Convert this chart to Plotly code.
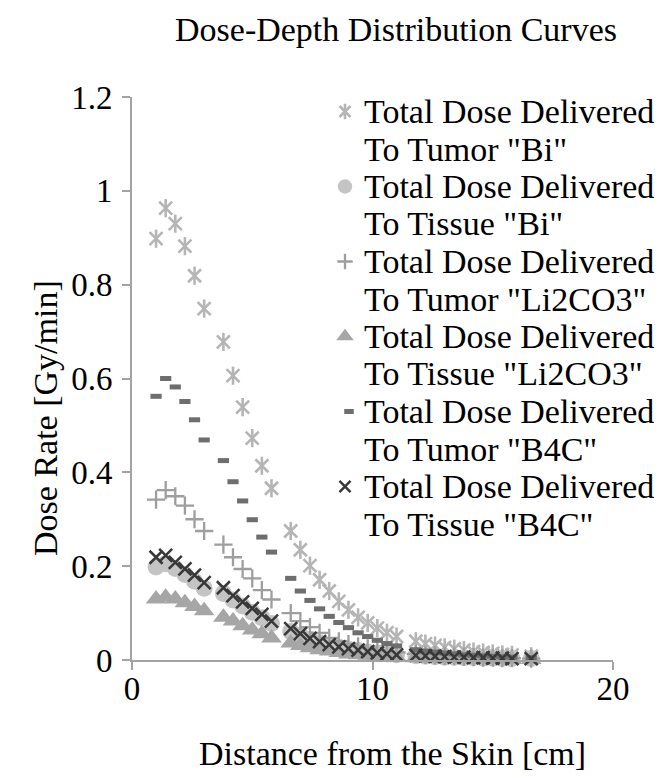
import plotly.graph_objects as go

# ---------------- data ----------------
depth_cm = [1.0, 1.4, 1.8, 2.2, 2.6, 3.0,
            3.8, 4.2, 4.6, 5.0, 5.4, 5.8,
            6.6, 7.0, 7.4, 7.8, 8.2, 8.6, 9.0, 9.4, 9.8, 10.2, 10.6, 11.0,
            11.8, 12.2, 12.6, 13.0, 13.4, 13.8, 14.2, 14.6, 15.0, 15.4, 15.8,
            16.6]

tumor_bi = [0.898, 0.963, 0.930, 0.882, 0.819, 0.749,
            0.678, 0.606, 0.539, 0.473, 0.414, 0.366,
            0.275, 0.235, 0.201, 0.171, 0.147, 0.125, 0.107, 0.091, 0.079, 0.068, 0.058, 0.050,
            0.040, 0.035, 0.031, 0.027, 0.024, 0.021, 0.018, 0.016, 0.014, 0.012, 0.011,
            0.008]
tissue_bi = [0.198, 0.205, 0.195, 0.182, 0.168, 0.153,
             0.142, 0.128, 0.115, 0.102, 0.090, 0.078,
             0.061, 0.052, 0.044, 0.037, 0.031, 0.027, 0.023, 0.020, 0.017, 0.015, 0.013, 0.011,
             0.009, 0.008, 0.007, 0.006, 0.006, 0.005, 0.005, 0.004, 0.004, 0.003, 0.003,
             0.003]
tumor_li = [0.342, 0.362, 0.349, 0.329, 0.300, 0.275,
            0.246, 0.219, 0.194, 0.174, 0.149, 0.129,
            0.100, 0.083, 0.070, 0.058, 0.047, 0.040, 0.034, 0.029, 0.025, 0.021, 0.018, 0.016,
            0.013, 0.011, 0.010, 0.009, 0.008, 0.007, 0.006, 0.005, 0.005, 0.004, 0.004,
            0.003]
tissue_li = [0.130, 0.134, 0.130, 0.122, 0.114, 0.105,
             0.091, 0.083, 0.073, 0.064, 0.056, 0.047,
             0.036, 0.031, 0.026, 0.022, 0.019, 0.016, 0.013, 0.011, 0.010, 0.008, 0.007, 0.006,
             0.005, 0.004, 0.004, 0.003, 0.003, 0.003, 0.002, 0.002, 0.002, 0.002, 0.001,
             0.001]
tumor_b4c = [0.562, 0.600, 0.582, 0.551, 0.512, 0.469,
             0.425, 0.380, 0.339, 0.299, 0.262, 0.230,
             0.174, 0.147, 0.127, 0.109, 0.093, 0.080, 0.069, 0.058, 0.050, 0.042, 0.035, 0.030,
             0.022, 0.019, 0.017, 0.015, 0.013, 0.011, 0.010, 0.009, 0.008, 0.007, 0.006,
             0.005]
tissue_b4c = [0.219, 0.223, 0.208, 0.194, 0.181, 0.165,
              0.154, 0.137, 0.124, 0.110, 0.097, 0.083,
              0.067, 0.056, 0.046, 0.039, 0.033, 0.028, 0.024, 0.021, 0.018, 0.015, 0.013, 0.011,
              0.010, 0.009, 0.008, 0.007, 0.006, 0.006, 0.005, 0.005, 0.004, 0.004, 0.003,
              0.003]

series_names = ['Total Dose Delivered<br>To Tumor "Bi"',
                'Total Dose Delivered<br>To Tissue "Bi"',
                'Total Dose Delivered<br>To Tumor "Li2CO3"',
                'Total Dose Delivered<br>To Tissue "Li2CO3"',
                'Total Dose Delivered<br>To Tumor "B4C"',
                'Total Dose Delivered<br>To Tissue "B4C"']
series_values = [tumor_bi, tissue_bi, tumor_li, tissue_li, tumor_b4c, tissue_b4c]

x_ticks = [0, 10, 20]
y_ticks = [0, 0.2, 0.4, 0.6, 0.8, 1.0, 1.2]
y_tick_text = ["0", "0.2", "0.4", "0.6", "0.8", "1", "1.2"]

title_text = "Dose-Depth Distribution Curves"
x_title = "Distance from the Skin [cm]"
y_title = "Dose Rate [Gy/min]"

# ---------------- styling ----------------
W, H = 669, 778
ML, MR, MT, MB = 124, 64, 89, 126
FONT = "Liberation Serif, Times New Roman, serif"
FS = 34
TICK_FS = 33
AXIS_GRAY = "#a3a3a3"
plot_w = W - ML - MR
plot_h = H - MT - MB


def px_x(px):
    return (px - ML) / plot_w


def px_y(py):
    return 1 - (py - MT) / plot_h


styles = [
    dict(color="#b5b5b5", layers=[("x-thin-open", 13, 2.6), ("line-ns-open", 13, 2.6)]),
    dict(color="#c4c4c4", layers=[("circle", 17, 0)]),
    dict(color="#9e9e9e", layers=[("cross-thin-open", 13, 2.3)]),
    dict(color="#a6a6a6", layers=[("triangle-up", 18, 0)]),
    dict(color="#6e6e6e", layers=[("line-ew-open", 8, 5)]),
    dict(color="#383838", layers=[("x-thin-open", 13, 2.5)]),
]

fig = go.Figure()

for name, vals, st in zip(series_names, series_values, styles):
    for sym, size, lw in st["layers"]:
        fig.add_trace(go.Scatter(
            x=depth_cm, y=vals, mode="markers", name=name, showlegend=False,
            marker=dict(symbol=sym, size=size, color=st["color"],
                        line=dict(width=lw, color=st["color"])),
            xaxis="x", yaxis="y", cliponaxis=False))

# ---------------- manual legend (pixel-coordinate overlay axes) ----------------
LEG_TOP = 103.5       # centre of first text line (px)
LEG_LINE = 37.5       # line spacing (px)
LEG_MARK_X = 337
LEG_TEXT_X = 354
LEG_MARK_SCALE = 0.85

for i, (name, st) in enumerate(zip(series_names, styles)):
    y0 = LEG_TOP + 2 * i * LEG_LINE
    for sym, size, lw in st["layers"]:
        fig.add_trace(go.Scatter(
            x=[LEG_MARK_X + (4 if sym == "line-ew-open" else 0)], y=[y0], mode="markers",
            showlegend=False, hoverinfo="skip",
            marker=dict(symbol=sym, size=size * LEG_MARK_SCALE, color=st["color"],
                        line=dict(width=lw, color=st["color"])),
            xaxis="x2", yaxis="y2", cliponaxis=False))
    for j, line in enumerate(name.split("<br>")):
        fig.add_annotation(x=px_x(LEG_TEXT_X), y=px_y(y0 + j * LEG_LINE),
                           xref="paper", yref="paper",
                           text=line, showarrow=False, xanchor="left", yanchor="middle",
                           font=dict(family=FONT, size=FS, color="black"))

# titles as annotations (paper coordinates computed from pixel targets)
fig.add_annotation(x=px_x(388), y=px_y(22), xref="paper", yref="paper", text=title_text,
                   showarrow=False, xanchor="center", yanchor="middle",
                   font=dict(family=FONT, size=FS, color="black"))
fig.add_annotation(x=px_x(384), y=px_y(745), xref="paper", yref="paper", text=x_title,
                   showarrow=False, xanchor="center", yanchor="middle",
                   font=dict(family=FONT, size=FS, color="black"))
fig.add_annotation(x=px_x(37), y=px_y(410), xref="paper", yref="paper", text=y_title,
                   showarrow=False, textangle=-90, xanchor="center", yanchor="middle",
                   font=dict(family=FONT, size=FS, color="black"))

fig.update_layout(
    width=W, height=H, autosize=False,
    margin=dict(l=ML, r=MR, t=MT, b=MB, pad=0),
    paper_bgcolor="white", plot_bgcolor="white",
    showlegend=False,
    font=dict(family=FONT, size=FS, color="black"),
    xaxis=dict(range=[0, 20], tickvals=x_ticks, ticks="outside", ticklen=8, tickwidth=2,
               tickcolor=AXIS_GRAY, showline=True, linecolor=AXIS_GRAY, linewidth=2,
               showgrid=False, zeroline=False, tickfont=dict(family=FONT, size=TICK_FS),
               ticklabelstandoff=-10),
    yaxis=dict(range=[0, 1.2], tickvals=y_ticks, ticktext=y_tick_text, ticks="outside",
               ticklen=8, tickwidth=2, tickcolor=AXIS_GRAY, showline=True,
               linecolor=AXIS_GRAY, linewidth=2, showgrid=False, zeroline=False,
               tickfont=dict(family=FONT, size=TICK_FS), ticklabelstandoff=3),
    # overlay axes whose values equal page pixels (used only for legend glyphs)
    xaxis2=dict(range=[ML, ML + plot_w], overlaying="x", visible=False, fixedrange=True),
    yaxis2=dict(range=[MT + plot_h, MT], overlaying="y", visible=False, fixedrange=True),
)

fig.write_html("out.html")
